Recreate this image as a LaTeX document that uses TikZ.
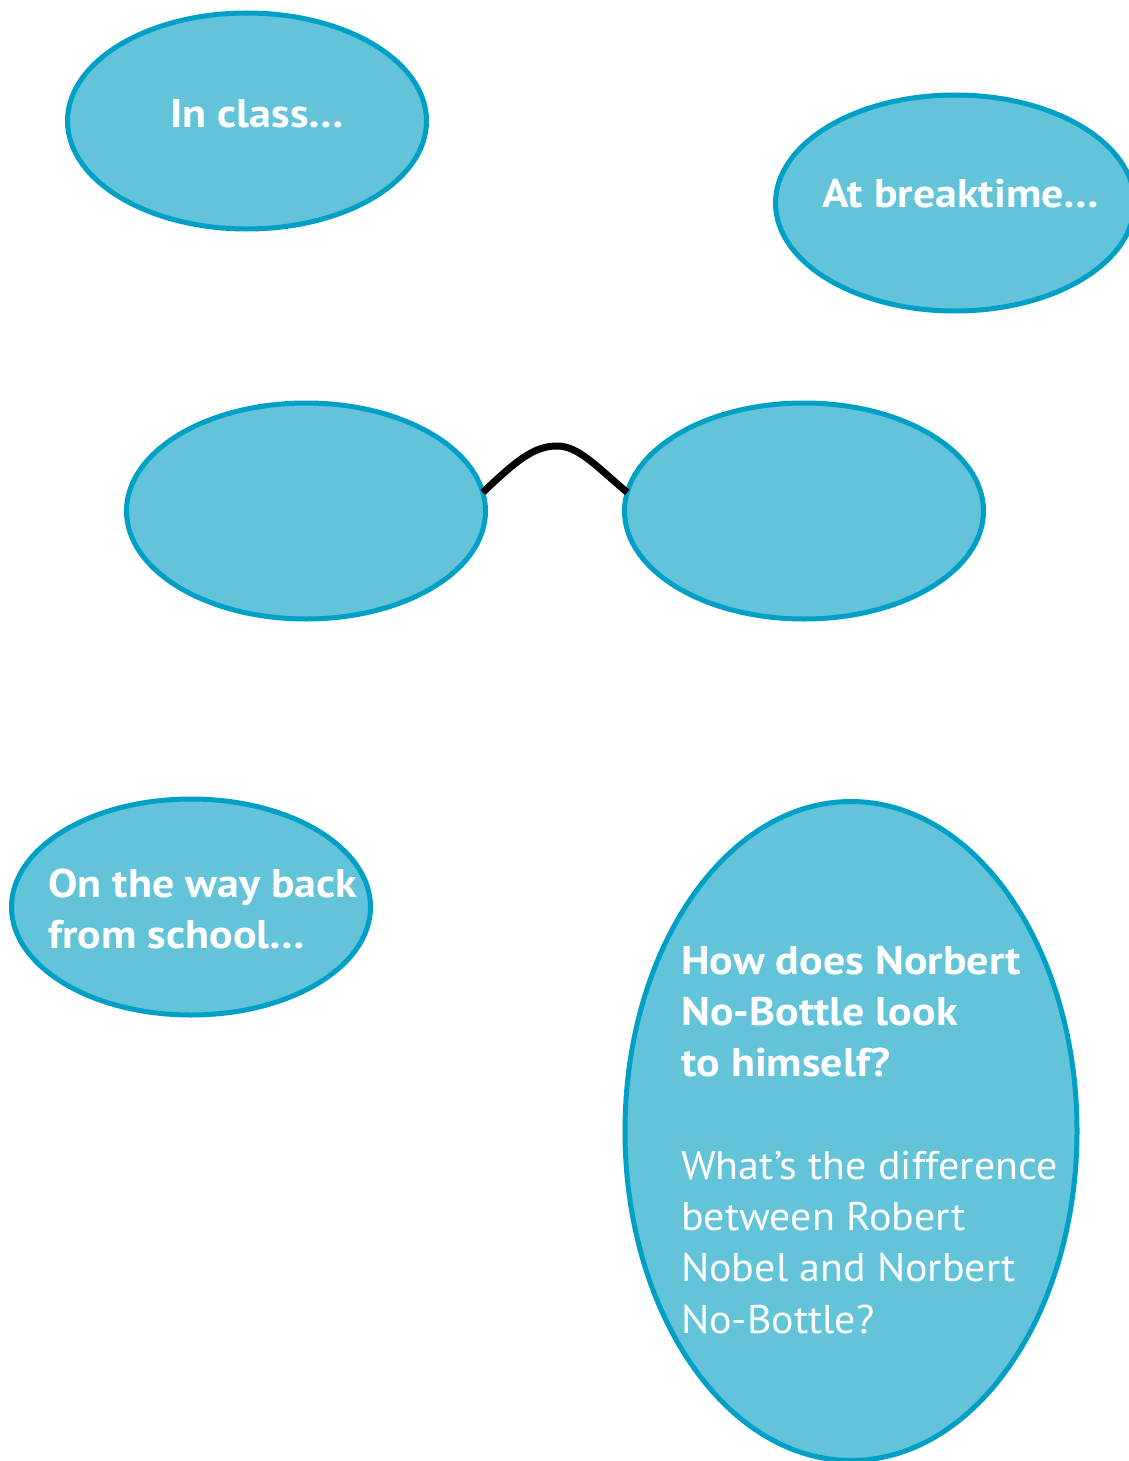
\documentclass[tikz,border=0pt]{standalone}
\usepackage{fontspec}
\setmainfont{PT Sans}[FakeStretch=1.05,BoldFeatures={FakeStretch=1.10}]
\usetikzlibrary{shapes.geometric}
\definecolor{bubblefill}{RGB}{99,195,217}
\definecolor{bubbleline}{RGB}{0,160,198}
\begin{document}
\begin{tikzpicture}[x=1pt,y=-1pt,
  bubble/.style={ellipse,draw=bubbleline,fill=bubblefill,line width=5pt,inner sep=0pt,outer sep=0pt},
  small/.style={bubble,minimum width=359pt,minimum height=216pt},
  lbl/.style={anchor=base west,text=white,font=\fontsize{40}{51}\selectfont,inner sep=0pt},
  blbl/.style={lbl,font=\fontsize{40}{51}\selectfont\bfseries}]
\useasboundingbox (0,0) rectangle (1128,1461);
\node[small] (cls) at (247,121) {};
\node[small] (brk) at (955,203) {};
\node[small] (g1) at (306,511) {};
\node[small] (g2) at (804,511) {};
\node[small] (way) at (191,907) {};
\node[bubble,minimum width=452pt,minimum height=659pt] (big) at (851,1131) {};
\coordinate (bridge) at (557,446);
\draw[line width=7pt] (g1.6) .. controls (515,462) and (533,446) .. (bridge) .. controls (578,446) and (595,465) .. (g2.174);
\node[blbl] (tcls) at (170,128) {In class…};
\node[blbl] (tbrk) at (822,207) {At breaktime…};
\node[blbl,align=left,anchor=north west] (tway) at (48,869) {\vphantom{O}\smash{On the way back}\\from school…};
\node[blbl,align=left,anchor=north west] (tq) at (681,946) {\vphantom{H}\smash{How does Norbert}\\No-Bottle look\\to himself?};
\node[lbl,align=left,anchor=north west,font=\fontsize{40}{51.3}\selectfont] (tq2) at (681,1151) {\vphantom{W}\smash{What’s the difference}\\between Robert\\Nobel and Norbert\\No-Bottle?};
\end{tikzpicture}
\end{document}
